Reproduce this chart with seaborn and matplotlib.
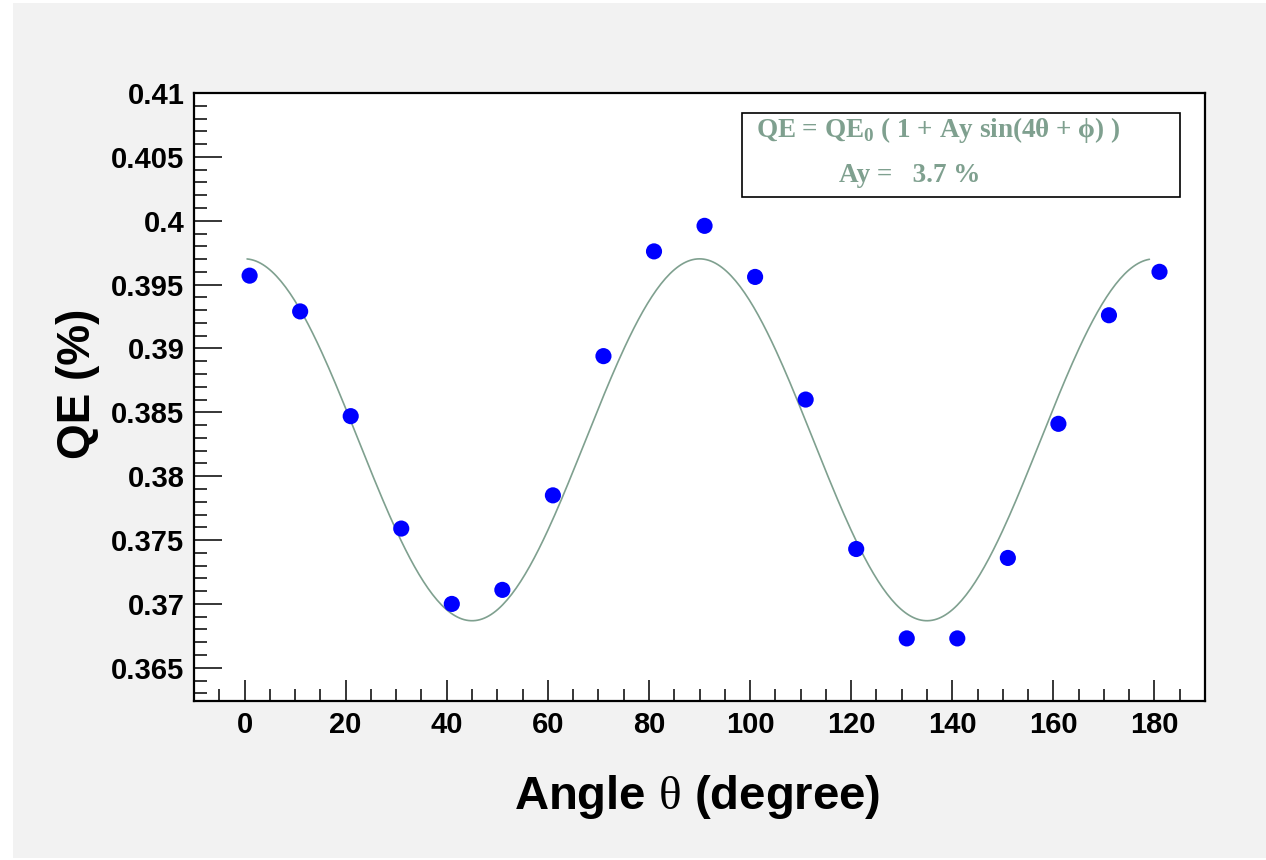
import numpy as np
import pandas as pd
import matplotlib
matplotlib.use('Agg')
import matplotlib.pyplot as plt
from matplotlib.patches import Rectangle
from matplotlib.ticker import MultipleLocator, FuncFormatter
import seaborn as sns

# measured points
angle = [1, 11, 21, 31, 41, 51, 61, 71, 81, 91, 101, 111, 121, 131, 141, 151, 161, 171, 181]
qe = [0.3957, 0.3929, 0.3847, 0.3759, 0.3700, 0.3711, 0.3785, 0.3894, 0.3976, 0.3996,
      0.3956, 0.3860, 0.3743, 0.3673, 0.3673, 0.3736, 0.3841, 0.3926, 0.3960]

# fit result  QE = QE0 (1 + Ay sin(4 theta + phi))
qe0 = 0.38285
ay = 0.037
phi = np.pi / 2
fit_lo, fit_hi = 0.5, 179.0

sns.set_style('ticks')
plt.rcParams['font.family'] = ['Liberation Sans', 'DejaVu Sans']
plt.rcParams['mathtext.fontset'] = 'custom'
plt.rcParams['mathtext.rm'] = 'Liberation Serif'
plt.rcParams['mathtext.bf'] = 'Liberation Serif:bold'
for k in ['text.color', 'axes.labelcolor', 'xtick.color', 'ytick.color']:
    plt.rcParams[k] = 'black'

W, H = 1266, 860
fig = plt.figure(figsize=(W / 100, H / 100), dpi=100)
fig.patch.set_facecolor('white')
fig.patches.append(Rectangle((13 / W, 2 / H), 1 - 13 / W, (H - 5) / H,
                             transform=fig.transFigure, facecolor='#f2f2f2',
                             edgecolor='none', zorder=-10))

ax = fig.add_axes([194 / W, (H - 701) / H, (1205 - 194) / W, (701 - 93) / H])
ax.set_facecolor('white')

th = np.linspace(fit_lo, fit_hi, 400)
fit = pd.DataFrame({'angle': th,
                    'qe': qe0 * (1 + ay * np.sin(4 * np.radians(th) + phi))})
pts = pd.DataFrame({'angle': angle, 'qe': qe})

fit_col = '#7fa08f'
sns.lineplot(data=fit, x='angle', y='qe', ax=ax, color=fit_col, lw=1.2, zorder=2)
sns.scatterplot(data=pts, x='angle', y='qe', ax=ax, color='#0000ff', s=135,
                edgecolor='none', zorder=3)

ax.set_xlim(-10, 190)
ax.set_ylim(0.3624, 0.41)
ax.xaxis.set_major_locator(MultipleLocator(20))
ax.xaxis.set_minor_locator(MultipleLocator(5))
ax.yaxis.set_major_locator(MultipleLocator(0.005))
ax.yaxis.set_minor_locator(MultipleLocator(0.001))
ax.yaxis.set_major_formatter(FuncFormatter(lambda v, p: '%g' % round(v, 4)))

for s in ax.spines.values():
    s.set_linewidth(1.6)
    s.set_color('black')
ax.tick_params(axis='both', which='both', direction='in', top=False, right=False,
               width=1.1, color='black', labelcolor='black')
ax.tick_params(axis='y', which='major', length=20, pad=7)
ax.tick_params(axis='y', which='minor', length=9.5)
ax.tick_params(axis='x', which='major', length=15, pad=7)
ax.tick_params(axis='x', which='minor', length=8.5)
for lab in ax.get_xticklabels() + ax.get_yticklabels():
    lab.set_fontsize(21)
    lab.set_fontweight('bold')

ax.set_xlabel(r'Angle $\mathrm{\theta}$ (degree)', fontsize=34, fontweight='bold',
              color='black')
ax.set_ylabel('QE (%)', fontsize=33, fontweight='bold', color='black')
ax.xaxis.label.set_va('center')
ax.xaxis.set_label_coords(0.498, -0.158)
ax.yaxis.label.set_va('center')
ax.yaxis.label.set_ha('center')
ax.yaxis.set_label_coords(-0.115, 0.521)

# fit box
ax.add_patch(Rectangle((0.542, 0.829), 0.433, 0.138, transform=ax.transAxes,
                       facecolor='white', edgecolor='black', lw=1.2, zorder=4))
serif = ['Liberation Serif', 'DejaVu Serif']
ax.text(0.736, 0.939, r'QE = QE$_{\mathbf{0}}$ ( 1 + Ay sin(4θ + ϕ) )',
        transform=ax.transAxes, ha='center', va='center', fontsize=19.5,
        fontweight='bold', color=fit_col, family=serif, zorder=5)
ax.text(0.708, 0.864, 'Ay =   %.1f %%' % (ay * 100), transform=ax.transAxes,
        ha='center', va='center', fontsize=19.5, fontweight='bold',
        color=fit_col, family=serif, zorder=5)

fig.savefig('out.png', dpi=100)
